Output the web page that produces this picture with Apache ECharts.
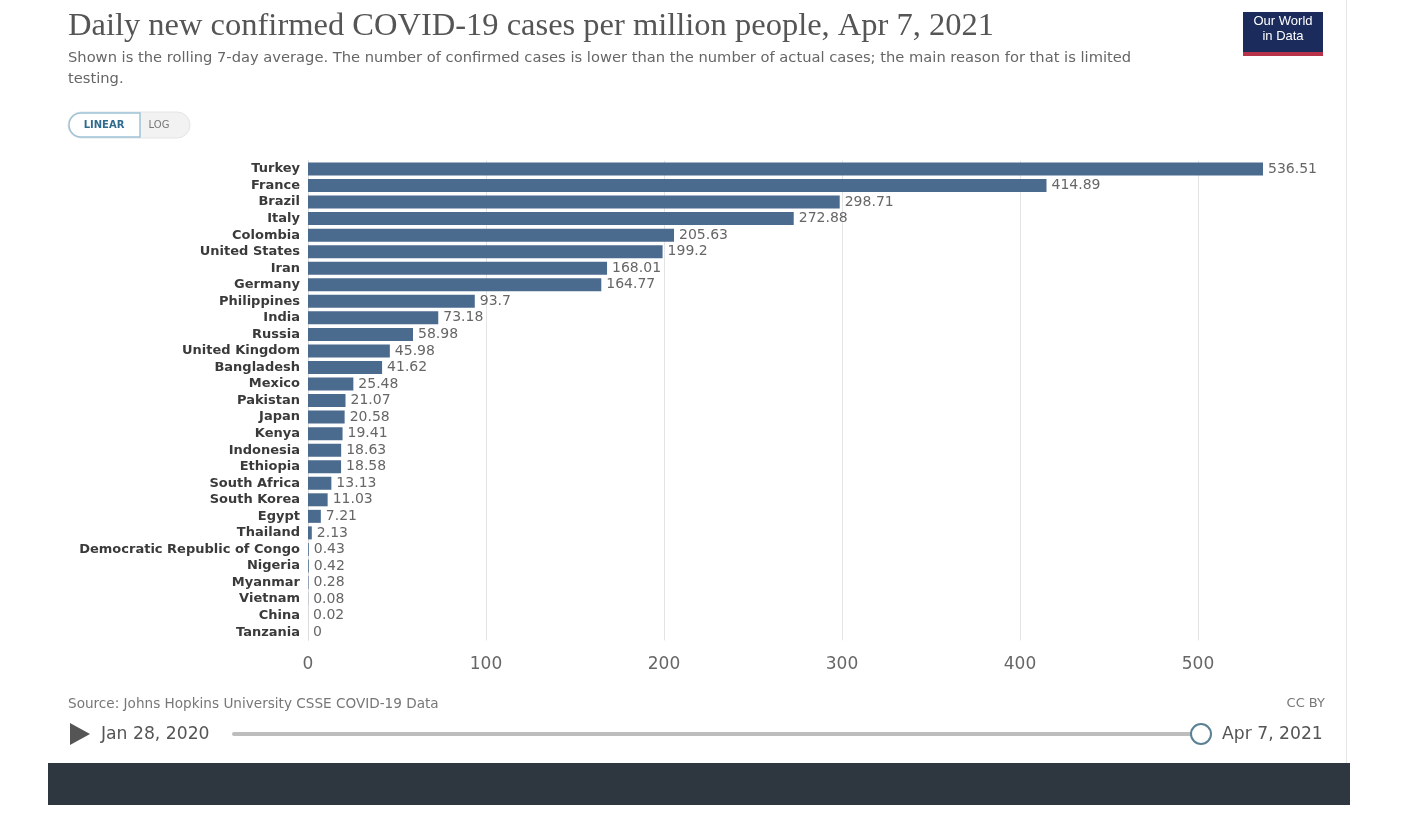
<!DOCTYPE html>
<html>
<head>
<meta charset="utf-8">
<script src="https://cdn.jsdelivr.net/npm/echarts@6/dist/echarts.min.js"></script>
<style>
html,body{margin:0;padding:0;background:#fff;}
#chart{width:1408px;height:814px;}
</style>
</head>
<body>
<div id="chart"></div>
<script>
const countries = ["Turkey","France","Brazil","Italy","Colombia","United States","Iran","Germany","Philippines","India","Russia","United Kingdom","Bangladesh","Mexico","Pakistan","Japan","Kenya","Indonesia","Ethiopia","South Africa","South Korea","Egypt","Thailand","Democratic Republic of Congo","Nigeria","Myanmar","Vietnam","China","Tanzania"];
const casesPerMillion = [536.51,414.89,298.71,272.88,205.63,199.2,168.01,164.77,93.7,73.18,58.98,45.98,41.62,25.48,21.07,20.58,19.41,18.63,18.58,13.13,11.03,7.21,2.13,0.43,0.42,0.28,0.08,0.02,0];
const xTicks = [0,100,200,300,400,500];
const xMax = 540;

const chart = echarts.init(document.getElementById('chart'), null, {renderer:'canvas'});
const sans = '"DejaVu Sans", sans-serif';

chart.setOption({
  animation:false,
  backgroundColor:'#ffffff',
  title:[
    {text:'Daily new confirmed COVID-19 cases per million people, Apr 7, 2021', left:68, top:10, padding:0,
     textStyle:{fontFamily:'"Liberation Serif", serif', fontWeight:'normal', fontSize:32.5, color:'#555555'}},
    {text:'Shown is the rolling 7-day average. The number of confirmed cases is lower than the number of actual cases; the main reason for that is limited\ntesting.',
     left:68, top:48, padding:0,
     textStyle:{fontFamily:sans, fontWeight:'normal', fontSize:14.7, color:'#666666', lineHeight:21}},
    {text:'Source: Johns Hopkins University CSSE COVID-19 Data', left:68, top:697, padding:0,
     textStyle:{fontFamily:sans, fontWeight:'normal', fontSize:13.6, color:'#777777'}},
    {text:'CC BY', right:83, top:697, padding:0,
     textStyle:{fontFamily:sans, fontWeight:'normal', fontSize:13, color:'#777777'}}
  ],
  grid:{left:308, top:160.7, height:479.7, width:xMax*1.78, containLabel:false},
  xAxis:{
    type:'value', min:0, max:xMax, interval:100,
    axisLine:{show:false}, axisTick:{show:false},
    splitLine:{show:true, showMaxLine:false, showMinLine:false, lineStyle:{color:'#e4e4e4', width:1}},
    axisLabel:{show:true, showMaxLabel:false, margin:16, fontFamily:sans, fontSize:17, color:'#666666',
      formatter: v => xTicks.includes(v) ? String(v) : ''}
  },
  yAxis:{
    type:'category', data:countries, inverse:true,
    axisLine:{show:true, lineStyle:{color:'#dddddd'}}, axisTick:{show:false},
    axisLabel:{interval:0, margin:8, fontFamily:sans, fontSize:13, fontWeight:'bold', color:'#3a3a3a'}
  },
  series:[{
    type:'bar', data:casesPerMillion, barWidth:13,
    itemStyle:{color:'#4a6a8e'},
    label:{show:true, position:'right', distance:5, fontFamily:sans, fontSize:14, color:'#666666'}
  }],
  graphic:[
    {type:'rect', shape:{x:1346, y:0, width:1, height:763}, style:{fill:'#e6e6e6'}, silent:true},
    {type:'rect', shape:{x:48, y:763, width:1302, height:42}, style:{fill:'#2e3640'}, silent:true},
    // logo
    {type:'rect', shape:{x:1243, y:12, width:80, height:44}, style:{fill:'#1a2b5c'}, silent:true},
    {type:'rect', shape:{x:1243, y:52, width:80, height:4}, style:{fill:'#b8334a'}, silent:true},
    {type:'text', x:1283, y:14, style:{text:'Our World\nin Data', align:'center', verticalAlign:'top', fill:'#ffffff', fontFamily:'"Liberation Sans", Arial, sans-serif', fontSize:13, lineHeight:15}, silent:true},
    // toggle
    {type:'rect', shape:{x:68, y:112, width:122, height:26, r:13}, style:{fill:'#f2f2f2', stroke:'#e4e4e4', lineWidth:1}, silent:true},
    {type:'rect', shape:{x:69, y:113, width:71, height:24, r:[12,0,0,12]}, style:{fill:'#ffffff', stroke:'#9fc3d6', lineWidth:1.5}, silent:true},
    {type:'text', x:104, y:125, style:{text:'LINEAR', align:'center', verticalAlign:'middle', fill:'#2f6a8f', fontFamily:sans, fontSize:10, fontWeight:'bold'}, silent:true},
    {type:'text', x:159, y:125, style:{text:'LOG', align:'center', verticalAlign:'middle', fill:'#777777', fontFamily:sans, fontSize:10}, silent:true},
    // timeline
    {type:'polygon', shape:{points:[[70,723],[70,745],[90,734]]}, style:{fill:'#555555'}, silent:true},
    {type:'text', x:101, y:735, style:{text:'Jan 28, 2020', align:'left', verticalAlign:'middle', fill:'#555555', fontFamily:sans, fontSize:17.2}, silent:true},
    {type:'rect', shape:{x:232, y:732, width:960, height:4, r:2}, style:{fill:'#bdbdbd'}, silent:true},
    {type:'circle', shape:{cx:1201, cy:734, r:10}, style:{fill:'#ffffff', stroke:'#5b8193', lineWidth:2}, silent:true},
    {type:'text', x:1222, y:735, style:{text:'Apr 7, 2021', align:'left', verticalAlign:'middle', fill:'#555555', fontFamily:sans, fontSize:17.2}, silent:true}
  ]
});
</script>
</body>
</html>
